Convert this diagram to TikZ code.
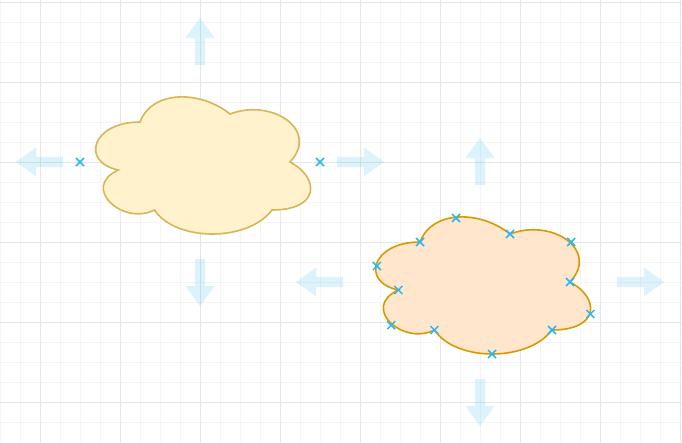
\documentclass[tikz,border=0pt]{standalone}
\usepackage{xcolor}
\usepackage{tikz}
\usetikzlibrary{calc}
\definecolor{gridminor}{HTML}{F4F4F4}
\definecolor{gridmajor}{HTML}{E6E6E6}
\definecolor{yellowfill}{HTML}{FFF2CC}
\definecolor{yellowline}{HTML}{D6B656}
\definecolor{orangefill}{HTML}{FFE6CC}
\definecolor{orangeline}{HTML}{D79B00}
\definecolor{hoverblue}{HTML}{29B6F2}
\tikzset{minorline/.style={draw=gridminor, line width=1pt}}
\tikzset{majorline/.style={draw=gridmajor, line width=1pt}}
\tikzset{yellowcloud/.style={fill=yellowfill, draw=yellowline, line width=1.6pt}}
\tikzset{orangecloud/.style={fill=orangefill, draw=orangeline, line width=1.6pt}}
\tikzset{hoverarrow/.pic={
  \fill[hoverblue, fill opacity=0.16] (0pt,-5pt) -- (27pt,-5pt) -- (27pt,-14.5pt)
    -- (47pt,0pt) -- (27pt,14.5pt) -- (27pt,5pt) -- (0pt,5pt) -- cycle;}}
\tikzset{conpoint/.pic={
  \draw[hoverblue, line width=1.5pt] (-4pt,-4pt) -- (4pt,4pt) (-4pt,4pt) -- (4pt,-4pt);}}
\tikzset{cloudpath/.pic={
  \path[pic actions] (0.25,0.25) .. controls (0.05,0.25) and (0,0.5) .. (0.16,0.55)
    .. controls (0,0.66) and (0.18,0.9) .. (0.31,0.8)
    .. controls (0.4,1) and (0.7,1) .. (0.8,0.8)
    .. controls (1,0.8) and (1,0.6) .. (0.875,0.5)
    .. controls (1,0.3) and (0.8,0.1) .. (0.625,0.2)
    .. controls (0.5,0.05) and (0.3,0.05) .. (0.25,0.25) -- cycle;}}

\begin{document}
\begin{tikzpicture}[x=1pt, y=-1pt]
  \useasboundingbox (0,0) rectangle (682,442);
  \fill[white] (0,0) rectangle (682,442);
  % Grid
  \foreach \x in {0,20,...,680} \draw[minorline] (\x,0) -- (\x,442);
  \foreach \y in {2,22,...,422} \draw[minorline] (0,\y) -- (682,\y);
  \foreach \x in {40,120,...,680} \draw[majorline] (\x,0) -- (\x,442);
  \foreach \y in {2,82,...,402} \draw[majorline] (0,\y) -- (682,\y);
  % Clouds
  \begin{scope}[shift={(80,82)}, x=240pt, y=-160pt]
    \pic[yellowcloud] (cloudA) at (0,0) {cloudpath};
    \coordinate (west) at (0,0.5);
    \coordinate (east) at (1,0.5);
  \end{scope}
  \begin{scope}[shift={(360,202)}, x=240pt, y=-160pt]
    \pic[orangecloud] (cloudB) at (0,0) {cloudpath};
    \foreach \px/\py [count=\i] in {0.25/0.25, 0.4/0.1, 0.16/0.55, 0.07/0.4,
        0.31/0.8, 0.13/0.77, 0.8/0.8, 0.55/0.95, 0.875/0.5, 0.96/0.7,
        0.625/0.2, 0.88/0.25}
      \coordinate (p\i) at (\px,\py);
  \end{scope}
  % Connection points
  \pic at (west) {conpoint};
  \pic at (east) {conpoint};
  \foreach \i in {1,...,12} \pic at (p\i) {conpoint};
  % Hover arrows
  \pic[rotate=90] at (200,65) {hoverarrow};
  \pic[rotate=-90] at (200,259) {hoverarrow};
  \pic[rotate=180] at (63,162) {hoverarrow};
  \pic at (337,162) {hoverarrow};
  \pic[rotate=90] at (480,185) {hoverarrow};
  \pic[rotate=-90] at (480,379) {hoverarrow};
  \pic[rotate=180] at (343,282) {hoverarrow};
  \pic at (617,282) {hoverarrow};
\end{tikzpicture}
\end{document}
